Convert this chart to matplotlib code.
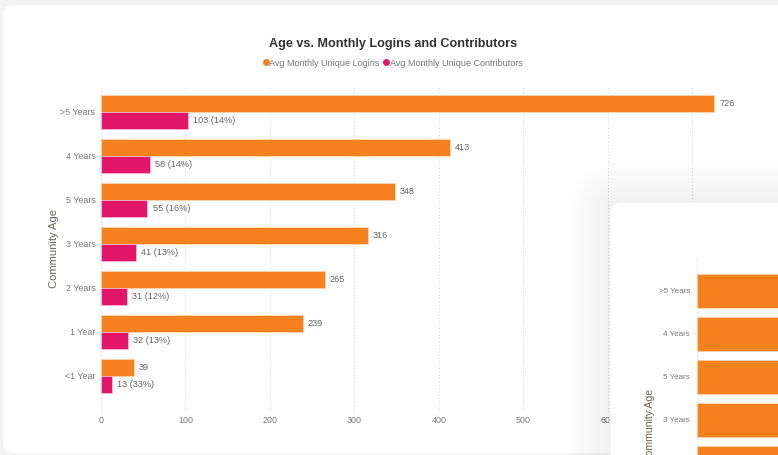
import matplotlib.pyplot as plt
from matplotlib.patches import FancyBboxPatch
from matplotlib.lines import Line2D
import numpy as np

plt.rcParams['font.family'] = ['Liberation Sans', 'DejaVu Sans']

ages = ['>5 Years', '4 Years', '5 Years', '3 Years', '2 Years', '1 Year', '<1 Year']
logins = [726, 413, 348, 316, 265, 239, 39]
contributors = [103, 58, 55, 41, 31, 32, 13]
xticks = [0, 100, 200, 300, 400, 500, 600, 700]
# the 700 label sits under the second card, only its grid line shows
xtick_labels = ['0', '100', '200', '300', '400', '500', '600', '']

ORANGE = '#F5821F'
PINK = '#E31769'
W, H = 778, 455


def frac(x0, y0, x1, y1):
    # pixel box (top-left origin) -> figure fraction rect
    return [x0 / W, 1 - y1 / H, (x1 - x0) / W, (y1 - y0) / H]


fig = plt.figure(figsize=(W / 100, H / 100), dpi=100, facecolor='#f3f3f3')

# background layer with the main card
bg = fig.add_axes([0, 0, 1, 1], zorder=0)
bg.set_xlim(0, W)
bg.set_ylim(H, 0)
bg.axis('off')
bg.add_patch(FancyBboxPatch((3, 5), W + 20, 453 - 5, boxstyle='round,pad=0,rounding_size=11',
                            fc='white', ec='none'))

# main chart
ax = fig.add_axes(frac(101, 86, 101 + 800 * 0.8447, 412), zorder=1)
ax.set_facecolor('none')
y = np.arange(len(ages))
bh = 0.39
ax.barh(y - bh / 2, logins, height=bh, color=ORANGE, edgecolor='#fbd3b0', linewidth=0.6)
ax.barh(y + bh / 2, contributors, height=bh, color=PINK, edgecolor='#f7b6cf', linewidth=0.6)
for i in range(len(ages)):
    ax.text(logins[i] + 6, i - bh / 2, str(logins[i]), va='center', ha='left',
            fontsize=6.6, color='#666666')
    pct = round(100 * contributors[i] / logins[i])
    ax.text(contributors[i] + 6, i + bh / 2, f'{contributors[i]} ({pct}%)', va='center',
            ha='left', fontsize=6.6, color='#666666')

ax.set_xlim(0, 800)
ax.set_ylim(6.82, -0.59)
ax.set_yticks(y)
ax.set_yticklabels(ages)
ax.set_xticks(xticks)
ax.set_xticklabels(xtick_labels)
ax.tick_params(length=0, labelsize=6.4, colors='#777777')
ax.tick_params(axis='x', pad=3)
ax.tick_params(axis='y', pad=4)
ax.grid(axis='x', color='#d9d9d9', linestyle=(0, (1, 2)), linewidth=0.8)
ax.set_axisbelow(True)
for s in ax.spines.values():
    s.set_visible(False)
ax.set_ylabel('Community Age', fontsize=8, color='#6b6058', labelpad=1)

fig.text(393.5 / W, 1 - 44 / H, 'Age vs. Monthly Logins and Contributors', ha='center',
         va='center', fontsize=9.1, fontweight='bold', color='#333333')
handles = [Line2D([], [], marker='o', ls='none', color=ORANGE, markersize=4),
           Line2D([], [], marker='o', ls='none', color=PINK, markersize=4)]
fig.legend(handles, ['Avg Monthly Unique Logins', 'Avg Monthly Unique Contributors'],
           loc='center', bbox_to_anchor=(393 / W, 1 - 63 / H), ncol=2, frameon=False,
           fontsize=6.5, labelcolor='#777777', handlelength=0.5, handletextpad=0.15,
           columnspacing=0.5, borderpad=0)

# second card overlapping bottom right, with soft shadow
over = fig.add_axes([0, 0, 1, 1], zorder=2)
over.set_xlim(0, W)
over.set_ylim(H, 0)
over.axis('off')
over.patch.set_alpha(0)
for k in range(14, 0, -1):
    over.add_patch(FancyBboxPatch((610 - 3 * k, 202 - 3 * k), 300 + 6 * k, 400 + 6 * k,
                                  boxstyle=f'round,pad=0,rounding_size={10 + 3 * k}',
                                  fc='black', ec='none', alpha=0.004))
over.add_patch(FancyBboxPatch((610, 202), 300, 400, boxstyle='round,pad=0,rounding_size=10',
                              fc='white', ec='#efefef', lw=0.6))

ax2 = fig.add_axes(frac(697, 257, 997, 595), zorder=3)
ax2.set_facecolor('none')
ax2.barh(y, logins, height=0.77, color=ORANGE, edgecolor='#fbd3b0', linewidth=0.6)
ax2.set_xlim(0, 355)
ax2.set_ylim(7.07, -0.79)
ax2.set_yticks(y)
ax2.set_yticklabels(ages)
ax2.set_xticks([0])
ax2.set_xticklabels([])
ax2.tick_params(length=0, labelsize=5.8, colors='#777777', pad=5)
ax2.grid(axis='x', color='#d9d9d9', linestyle=(0, (1, 2)), linewidth=0.8)
ax2.set_axisbelow(True)
for s in ax2.spines.values():
    s.set_visible(False)
ax2.set_ylabel('Community Age', fontsize=7.6, color='#6b6058', labelpad=3)

fig.savefig('out.png', dpi=100, facecolor=fig.get_facecolor())
